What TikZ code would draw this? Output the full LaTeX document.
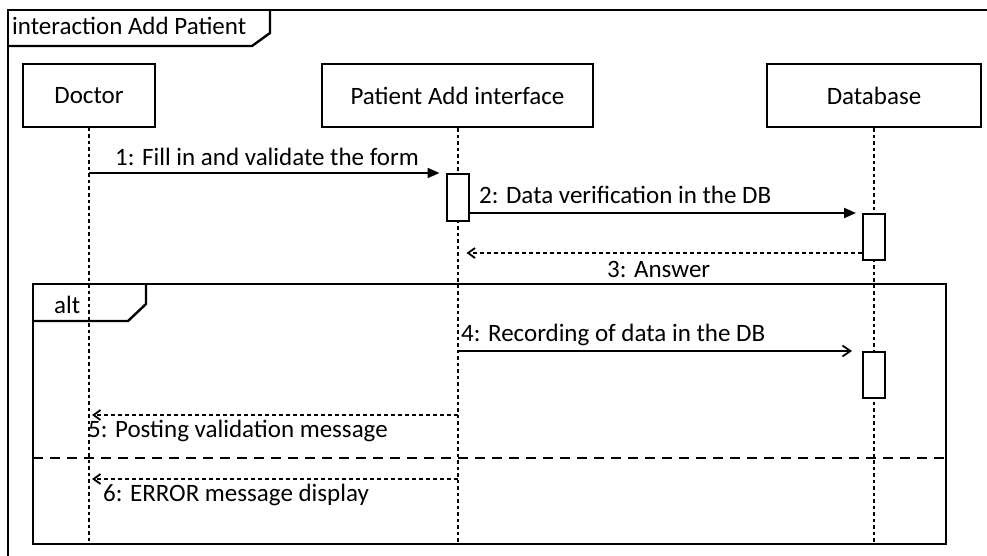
\documentclass[tikz,border=0pt]{standalone}
\usepackage{fontspec}
\setmainfont{Carlito}
\usetikzlibrary{arrows.meta}

\tikzset{
  lbl/.style={font=\fontsize{25}{29}\selectfont, inner sep=0pt, anchor=base west},
  framepen/.style={line width=2.4pt},
  headbox/.style={draw, line width=2pt, fill=white, font=\fontsize{25}{29}\selectfont,
    minimum height=63pt, inner sep=0pt},
  actbox/.style={draw, line width=2pt, fill=white, minimum width=22pt, inner sep=0pt},
  lifeline/.style={line width=2pt, dash pattern=on 3.5pt off 3pt},
  callmsg/.style={line width=2pt, -{Triangle[length=12pt,width=10pt]}},
  openmsg/.style={line width=1.8pt, -{Straight Barb[length=8pt,width=11pt,line width=1.8pt]}},
  replymsg/.style={line width=1.8pt, dash pattern=on 4pt off 3pt,
    -{Straight Barb[length=7pt,width=10pt,line width=1.8pt,sep=0pt]}},
  separator/.style={line width=2pt, dash pattern=on 10pt off 7pt},
}

\begin{document}
\begin{tikzpicture}[x=1pt, y=-1pt]
  \useasboundingbox (0,0) rectangle (987,556);
  \clip (0,0) rectangle (987,556);
  \fill[white] (0,0) rectangle (987,556);

  % outer interaction frame (runs past the page edge on the right and bottom)
  \draw[framepen] (8,10) rectangle (1000,570);
  \draw[framepen] (8,46) -- (252,46) -- (270,33) -- (270,10);
  \node[lbl] (title) at (12,35) {interaction Add Patient};

  % lifeline heads
  \node[headbox, minimum width=132pt] (doc) at (89,95.5) {Doctor};
  \node[headbox, minimum width=271pt] (pai) at (457.5,96) {Patient Add interface};
  \node[headbox, minimum width=214pt] (db)  at (874,96) {Database};

  % lifeline ends
  \coordinate (docend) at (doc.south |- 0,544);
  \coordinate (paiend) at (pai.south |- 0,544);
  \coordinate (dbend)  at (db.south  |- 0,544);

  \draw[lifeline] (doc.south) -- (docend);
  \draw[lifeline] (pai.south) -- (paiend);
  \draw[lifeline] (db.south)  -- (dbend);

  % activation bars
  \node[actbox, minimum height=47pt] (act1) at (pai.south |- 0,197.5) {};
  \node[actbox, minimum height=46pt] (act2) at (db.south |- 0,237) {};
  \node[actbox, minimum height=46pt] (act3) at (db.south |- 0,375) {};

  % message end points on the lifelines
  \coordinate (m1s) at (doc.south |- act1.north);
  \coordinate (m2s) at (act1.east |- 0,213);
  \coordinate (m2e) at (act2.west |- 0,213);
  \coordinate (m3s) at (act2.west |- 0,253);
  \coordinate (m3e) at (pai.south |- 0,253);
  \coordinate (m4s) at (pai.south |- act3.north);
  \coordinate (m5s) at (pai.south |- 0,415);
  \coordinate (m5e) at (doc.south |- 0,415);
  \coordinate (m6s) at (pai.south |- 0,479);
  \coordinate (m6e) at (doc.south |- 0,479);

  % messages
  \draw[callmsg, shorten >=6pt] (m1s) -- (act1.north west);
  \node[lbl] (l1) at (115,166) {1: Fill in and validate the form};

  \draw[callmsg, shorten >=6pt] (m2s) -- (m2e);
  \node[lbl] (l2) at (479,204) {2: Data verification in the DB};

  \draw[replymsg, shorten >=9pt] (m3s) -- (m3e);
  \node[lbl] (l3) at (607,277) {3: Answer};

  % alt combined fragment
  \draw[framepen] (33,284) rectangle (946,544);
  \draw[framepen] (33,321) -- (128,321) -- (146,304) -- (146,284);
  \node[lbl] (alt) at (54,313) {alt};

  \draw[openmsg, shorten >=10pt] (m4s) -- (act3.north west);
  \node[lbl] (l4) at (461,341) {4: Recording of data in the DB};

  \draw[replymsg, shorten >=3pt] (m5s) -- (m5e);
  \node[lbl] (l5) at (88,437) {5: Posting validation message};

  \draw[separator] (33,458) -- (946,458);

  \draw[replymsg, shorten >=3pt] (m6s) -- (m6e);
  \node[lbl] (l6) at (103,501) {6: ERROR message display};
\end{tikzpicture}
\end{document}
